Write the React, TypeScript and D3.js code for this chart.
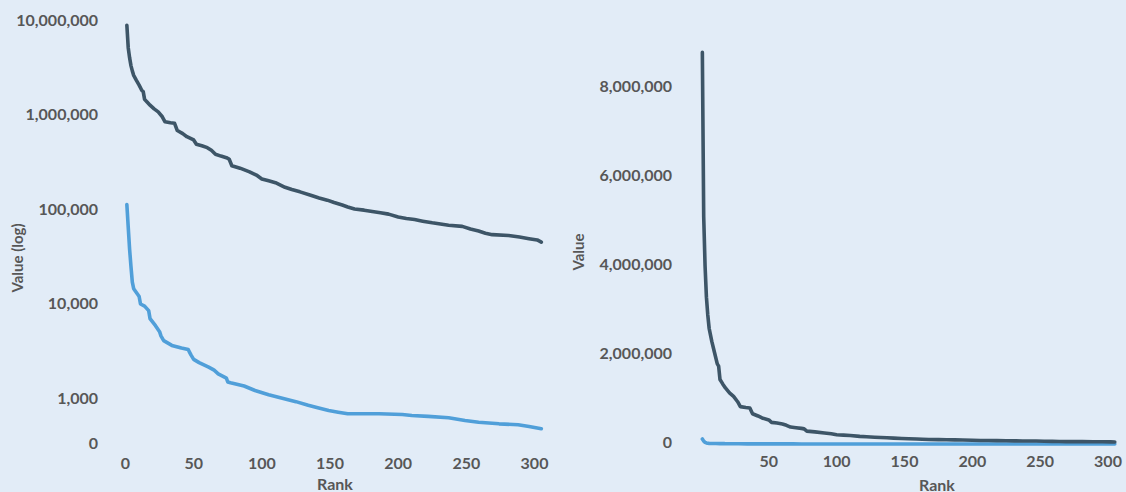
import React from "react";
import * as d3 from "d3";

// ticks
const rankTicks = [0, 50, 100, 150, 200, 250, 300];
const logTicks = [0, 1000, 10000, 100000, 1000000, 10000000];
const linearTicks = [0, 2000000, 4000000, 6000000, 8000000];

// dark series (top curve)
const darkRanks = [1, 2, 3, 4, 5, 6, 8, 10, 12, 13, 14, 16, 18, 21, 24, 27, 29, 33, 36, 38, 42, 45, 50, 52, 56, 60, 63, 66, 70, 74, 76, 78, 84, 91, 96, 100, 105, 110, 117, 122, 128, 137, 142, 148, 153, 159, 163, 168, 175, 181, 187, 193, 200, 206, 212, 218, 225, 231, 237, 247, 253, 259, 264, 269, 281, 289, 296, 302, 305];
const darkValues = [8800000, 5100000, 4000000, 3300000, 2900000, 2600000, 2300000, 2050000, 1800000, 1750000, 1450000, 1350000, 1260000, 1150000, 1070000, 950000, 840000, 820000, 810000, 680000, 630000, 585000, 540000, 486000, 470000, 448000, 420000, 381000, 365000, 351000, 340000, 289000, 272000, 249000, 230000, 209000, 200000, 191000, 171000, 162000, 153000, 139000, 132000, 125000, 118000, 111000, 106000, 101000, 98000, 95000, 92000, 89000, 83000, 80000, 78000, 75000, 72000, 70000, 68000, 66000, 62000, 59000, 56000, 54000, 53000, 51000, 49000, 47500, 45000];

// light series (bottom curve)
const lightRanks = [1, 2, 3, 4, 5, 6, 9, 10, 11, 14, 17, 18, 19, 22, 25, 26, 28, 34, 41, 46, 48, 50, 54, 61, 65, 68, 74, 75, 77, 87, 95, 105, 115, 125, 134, 141, 149, 156, 163, 186, 203, 210, 222, 237, 249, 259, 274, 288, 296, 305];
const lightValues = [112000, 65000, 38000, 25000, 17000, 14500, 12600, 12000, 10000, 9500, 8500, 7000, 6700, 5900, 5100, 4600, 4100, 3650, 3420, 3300, 2900, 2600, 2400, 2150, 2000, 1830, 1650, 1500, 1470, 1360, 1220, 1100, 1010, 930, 850, 800, 750, 720, 692, 692, 680, 664, 649, 628, 588, 564, 542, 529, 508, 481];

type Pt = { rank: number; value: number };

const W = 1126;
const H = 492;
const BG = "#e2ecf7";
const DARK = "#3d5567";
const LIGHT = "#509fd9";
const TEXT = "#575757";
const FONT = "Lato, 'Open Sans', sans-serif";

export default function App() {
  const fmt = d3.format(",");
  const dark: Pt[] = darkRanks.map((r, i) => ({ rank: r, value: darkValues[i] }));
  const light: Pt[] = lightRanks.map((r, i) => ({ rank: r, value: lightValues[i] }));

  // left chart: log scale
  const logMin = 340;
  const xL = d3.scaleLinear().domain([0, 300]).range([125.5, 534.5]);
  const yL = d3.scaleLog().domain([logMin, 10000000]).range([443, 20]);
  const lineL = d3.line<Pt>()
    .x(d => xL(d.rank))
    .y(d => yL(Math.max(d.value, logMin)));

  // right chart: linear scale
  const xR = d3.scaleLinear().domain([0, 300]).range([701, 1108]);
  const yR = d3.scaleLinear().domain([0, 8000000]).range([444, 88]);
  const lineR = d3.line<Pt>()
    .x(d => xR(d.rank))
    .y(d => yR(d.value));

  const lineStyle = {
    fill: "none",
    strokeWidth: 3.6,
    strokeLinejoin: "round" as const,
    strokeLinecap: "round" as const,
  };

  return (
    <svg width={W} height={H} style={{ position: "absolute", left: 0, top: 0, display: "block" }}
      fontFamily={FONT} fontWeight={700} fontSize={16} fill={TEXT}>
      <rect width={W} height={H} fill={BG} />

      {/* left chart */}
      <g>
        {logTicks.map(t => (
          <text key={t} x={98} y={yL(Math.max(t, logMin)) + 5.5} textAnchor="end">{fmt(t)}</text>
        ))}
        {rankTicks.map(t => (
          <text key={t} x={xL(t)} y={468.5} textAnchor="middle">{t}</text>
        ))}
        <text x={335} y={490} textAnchor="middle">Rank</text>
        <text transform={`translate(22.5,258) rotate(-90)`} textAnchor="middle" fontSize={15}>Value (log)</text>
        <path d={lineL(light) || ""} stroke={LIGHT} {...lineStyle} />
        <path d={lineL(dark) || ""} stroke={DARK} {...lineStyle} />
      </g>

      {/* right chart */}
      <g>
        {linearTicks.map(t => (
          <text key={t} x={672} y={yR(t) + 4} textAnchor="end">{fmt(t)}</text>
        ))}
        {rankTicks.filter(t => t > 0).map(t => (
          <text key={t} x={xR(t)} y={467} textAnchor="middle">{t}</text>
        ))}
        <text x={937} y={490.5} textAnchor="middle">Rank</text>
        <text transform={`translate(584,252) rotate(-90)`} textAnchor="middle" fontSize={15}>Value</text>
        <path d={lineR(light) || ""} stroke={LIGHT} {...lineStyle} />
        <path d={lineR(dark) || ""} stroke={DARK} {...lineStyle} />
      </g>
    </svg>
  );
}
